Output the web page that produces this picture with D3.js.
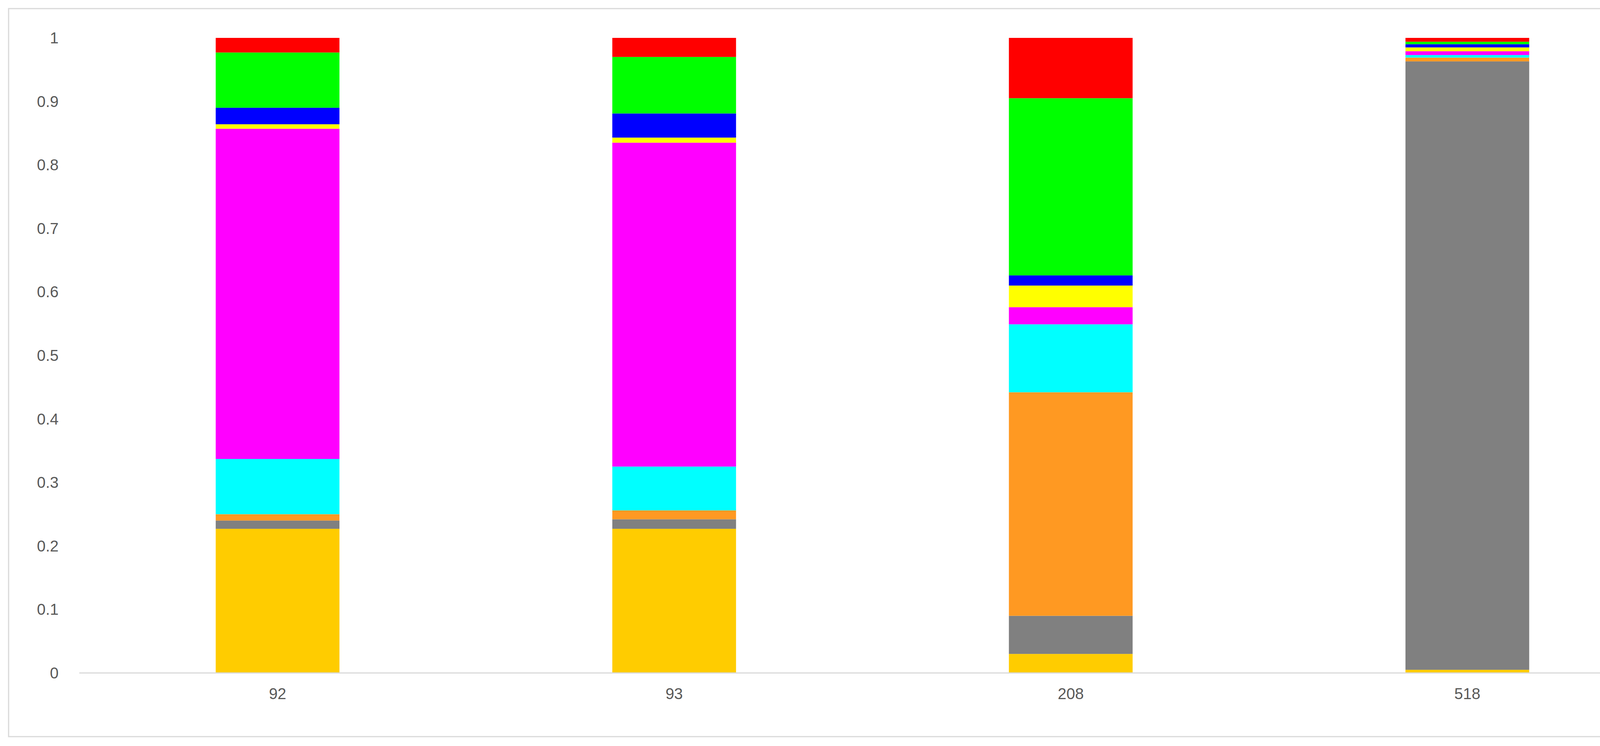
<!DOCTYPE html>
<html><head><meta charset="utf-8">
<script src="https://cdn.jsdelivr.net/npm/d3@7"></script>
<style>html,body{margin:0;padding:0;background:#fff;overflow:hidden;width:4350px;height:1910px}svg{display:block}</style>
</head><body>
<script>
const categories = ["92", "93", "208", "518"];
const seriesColors = ["#FFCC00", "#808080", "#FF9922", "#00FFFF", "#FF00FF", "#FFFF00", "#0000FF", "#00FF00", "#FF0000"];
// bottom to top per category
const values92  = [0.227, 0.013, 0.010, 0.087, 0.520, 0.007, 0.026, 0.087, 0.023];
const values93  = [0.227, 0.015, 0.014, 0.069, 0.510, 0.008, 0.038, 0.089, 0.030];
const values208 = [0.030, 0.060, 0.352, 0.107, 0.027, 0.034, 0.016, 0.279, 0.095];
const values518 = [0.005, 0.958, 0.006, 0.004, 0.006, 0.006, 0.005, 0.004, 0.006];
const yTicks = [0, 0.1, 0.2, 0.3, 0.4, 0.5, 0.6, 0.7, 0.8, 0.9, 1];

const W = 4350, H = 1910;
const svg = d3.select("body").append("svg").attr("width", W).attr("height", H)
  .attr("viewBox", `0 0 ${W} ${H}`);
svg.append("rect").attr("x", 22).attr("y", 22).attr("width", 4306).attr("height", 1864)
  .attr("fill", "#fff").attr("stroke", "#d9d9d9").attr("stroke-width", 3);

const x = d3.scaleBand().domain(categories).range([203, 4264]).paddingInner(0.688).paddingOuter(0.344);
const y = d3.scaleLinear().domain([0, 1]).range([1723, 97]);

const all = [values92, values93, values208, values518];
all.forEach((vals, ci) => {
  let acc = 0;
  vals.forEach((v, si) => {
    svg.append("rect")
      .attr("x", x(categories[ci])).attr("width", x.bandwidth())
      .attr("y", y(acc + v)).attr("height", y(acc) - y(acc + v))
      .attr("fill", seriesColors[si]);
    acc += v;
  });
});

svg.append("line").attr("x1", 203).attr("x2", 4264).attr("y1", y(0)).attr("y2", y(0))
  .attr("stroke", "#d9d9d9").attr("stroke-width", 3);

svg.selectAll("text.yt").data(yTicks).enter().append("text")
  .attr("x", 150).attr("y", d => y(d)).attr("dy", "0.35em")
  .attr("text-anchor", "end").attr("font-family", "Liberation Sans, Arial, sans-serif")
  .attr("font-size", 40).attr("fill", "#595959").text(d => d);

svg.selectAll("text.xt").data(categories).enter().append("text")
  .attr("x", d => x(d) + x.bandwidth() / 2).attr("y", 1790)
  .attr("text-anchor", "middle").attr("font-family", "Liberation Sans, Arial, sans-serif")
  .attr("font-size", 40).attr("fill", "#595959").text(d => d);
</script>
</body></html>
